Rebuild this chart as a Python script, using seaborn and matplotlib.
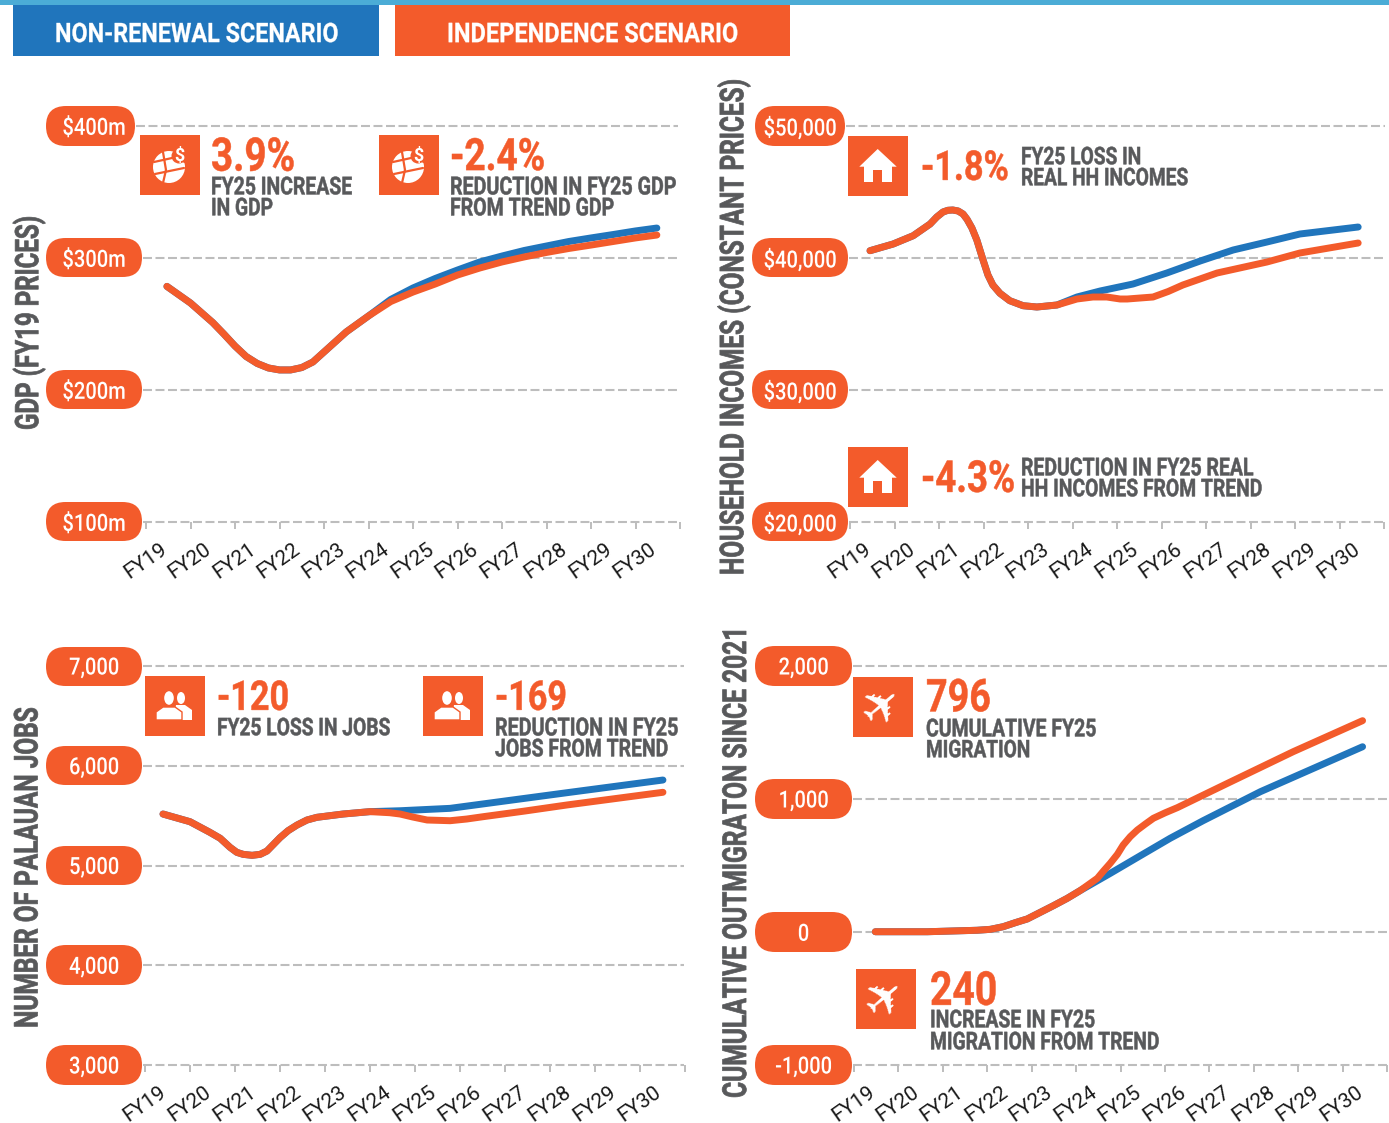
import matplotlib
matplotlib.use("Agg")
import matplotlib.pyplot as plt
from matplotlib.patches import Rectangle, FancyBboxPatch, Circle, Polygon, Ellipse
from matplotlib.patheffects import AbstractPathEffect
from matplotlib.transforms import Affine2D
import seaborn as sns

sns.set_theme(style="white")
FAMILY = ["Roboto", "DejaVu Sans"]
plt.rcParams["font.family"] = FAMILY

ORANGE, BLUE, TEXT, GRID = "#F35B2B", "#2075BC", "#58595B", "#BDBDBD"

FY_LABELS = ["FY19", "FY20", "FY21", "FY22", "FY23", "FY24", "FY25", "FY26", "FY27", "FY28", "FY29", "FY30"]

# GDP ($m)
gdp_x_head = [-0.03, .5, 1, 1.25, 1.5, 1.75, 2, 2.25, 2.5, 2.75, 3, 3.25, 3.5, 3.75, 4, 4.5]
gdp_head = [278.5, 265.9, 251.1, 242.4, 233.3, 225.4, 220.1, 216.7, 215.2, 215.2, 217, 221.2, 228.8, 236.4, 244, 256.1]
gdp_x_tail = [5, 5.5, 6, 6.5, 7, 7.5, 8, 8.5, 9, 9.5, 10, 10.5, 10.98]
gdp_ind_tail = [267, 274.2, 280.3, 287.1, 292.4, 297, 300.8, 304.2, 307.2, 309.8, 312.5, 315.2, 317.4]
gdp_non_tail = [268.6, 277.3, 284.5, 290.9, 297, 301.5, 305.7, 309.1, 312.5, 315.2, 317.8, 320.5, 322.7]

# Household incomes
hh_x_head = [-.05, .47, .92, 1.30, 1.45, 1.59, 1.70, 1.81, 1.93, 2.04, 2.13, 2.24, 2.35, 2.49, 2.60, 2.71, 2.87,
             3.09, 3.39, 3.70, 4.15]
hh_head = [40553, 41061, 41689, 42576, 43106, 43485, 43614, 43636, 43561, 43333, 42932, 42273, 41364, 39848, 38712,
           37955, 37326, 36765, 36386, 36288, 36439]
hh_x_ind_tail = [4.60, 4.96, 5.27, 5.57, 5.73, 6.31, 6.65, 6.98, 7.75, 8.87, 9.61, 10.92]
hh_ind_tail = [36894, 37045, 37045, 36894, 36894, 37045, 37462, 37955, 38864, 39697, 40379, 41136]
hh_x_non_tail = [4.60, 5.12, 5.86, 6.62, 7.37, 8.11, 8.87, 9.61, 10.92]
hh_non_tail = [37045, 37500, 38030, 38864, 39773, 40606, 41212, 41818, 42348]

# Jobs
jobs_x_head = [-.10, .50, .94, 1.17, 1.39, 1.54, 1.68, 1.88, 2.06, 2.21, 2.34, 2.50, 2.68, 2.88, 3.10, 3.32, 3.90, 4.50]
jobs_head = [5516, 5439, 5333, 5273, 5182, 5132, 5112, 5102, 5112, 5145, 5205, 5279, 5349, 5406, 5456, 5483, 5516, 5540]
jobs_x_ind_tail = [4.94, 5.17, 5.45, 5.77, 6.28, 6.65, 7.01, 7.94, 8.88, 11.01]
jobs_ind_tail = [5529, 5516, 5486, 5456, 5449, 5466, 5489, 5546, 5607, 5734]
jobs_x_non_tail = [5.17, 6.28, 7.39, 8.88, 11.01]
jobs_non_tail = [5549, 5573, 5640, 5730, 5857]

# Migration
mig_x_head = [-.02, 1.15, 2.27, 2.57, 2.86, 3.13, 3.40, 3.99, 4.30, 4.59]
mig_head = [2, 2, 13, 20, 40, 70, 98, 198, 253, 311]
mig_x_ind_tail = [4.98, 5.11, 5.27, 5.43, 5.56, 5.72, 5.88, 6.06, 6.24, 6.51, 6.78, 7.91, 9.39, 10.95]
mig_ind_tail = [404, 456, 517, 584, 654, 717, 767, 812, 855, 897, 935, 1118, 1356, 1589]
mig_x_non_tail = [5.27, 6.01, 6.62, 7.36, 8.65, 10.95]
mig_non_tail = [441, 586, 705, 837, 1055, 1393]

W, H = 1389, 1123
fig = plt.figure(figsize=(W / 100, H / 100), dpi=100, facecolor="white")
under = fig.add_axes([0, 0, 1, 1], zorder=0)
under.set_xlim(0, W)
under.set_ylim(H, 0)
under.axis("off")
renderer = fig.canvas.get_renderer()


class Tall(AbstractPathEffect):
    """Makes the glyphs of a text taller about their own middle, and optionally a little heavier."""

    def __init__(self, sy, stroke=0.0):
        super().__init__()
        self.sy = sy
        self.stroke = stroke

    def draw_path(self, renderer, gc, tpath, affine, rgbFace=None):
        e = tpath.get_extents()
        mid = (e.y0 + e.y1) / 2
        a = Affine2D().translate(0, -mid).scale(1, self.sy).translate(0, mid)
        gc0 = renderer.new_gc()
        gc0.copy_properties(gc)
        if self.stroke > 0 and rgbFace is not None:
            gc0.set_foreground(rgbFace)
            gc0.set_linewidth(self.stroke)
            gc0.set_joinstyle("round")
        renderer.draw_path(gc0, tpath, a + affine, rgbFace)
        gc0.restore()


def fitted(text, x0, x1, yc, color=TEXT, sy=1.27, stroke=0.35):
    t = under.text(x0, yc, text, color=color, fontweight="bold", fontsize=20, ha="left", va="baseline")
    w = t.get_window_extent(renderer).width
    fs = 20 * (x1 - x0) / w
    t.set_fontsize(fs)
    t.set_y(yc + 0.335 * fs * 100 / 72)
    t.set_path_effects([Tall(sy, stroke)])
    return t


def icon_box(x, y, size=60):
    under.add_patch(Rectangle((x, y), size, size, fc=ORANGE, ec="none"))


def house(x, y):
    icon_box(x, y)
    under.add_patch(Polygon([(x + 29.7, y + 13), (x + 48.7, y + 30.7), (x + 11.3, y + 30.7)], fc="white", ec="none"))
    under.add_patch(Rectangle((x + 16, y + 27), 27.7, 19.3, fc="white", ec="none"))
    under.add_patch(Rectangle((x + 25.3, y + 34), 8.4, 12.3, fc=ORANGE, ec="none"))


def globe(x, y):
    icon_box(x, y)
    cx, cy = x + 29, y + 32
    under.add_patch(Circle((cx, cy), 16, fc="white", ec="none"))
    for (a, b) in [((-15, -5), (3, -9)), ((-6, -15), (-3, 3)), ((-14, 7), (15, 1)), ((-3, 3), (-6, 16)), ((5, -10), (16, -5))]:
        under.plot([cx + a[0], cx + b[0]], [cy + a[1], cy + b[1]], color=ORANGE, lw=1.6)
    under.add_patch(Circle((cx + 10, cy - 11), 7.5, fc=ORANGE, ec="none"))
    under.text(cx + 10, cy - 11, "$", color="white", fontsize=13, fontweight="bold", ha="center", va="center")


def people(x, y):
    icon_box(x, y)
    under.add_patch(Ellipse((x + 36, y + 22), 8, 12, fc="white", ec="none"))
    under.add_patch(Polygon([(x + 31, y + 29), (x + 40, y + 29), (x + 47, y + 34), (x + 47, y + 44), (x + 28, y + 44)],
                            fc="white", ec="none"))
    under.add_patch(Ellipse((x + 24, y + 22), 11, 15, fc="white", ec=ORANGE, lw=1))
    under.add_patch(Polygon([(x + 18, y + 31), (x + 30, y + 31), (x + 37, y + 36), (x + 37, y + 44), (x + 11, y + 44),
                             (x + 11, y + 36)], fc="white", ec=ORANGE, lw=1))


def plane(x, y):
    icon_box(x, y)
    under.text(x + 30, y + 30, "\u2708", color="white", family="DejaVu Sans", fontsize=35, rotation=40,
               ha="center", va="center", rotation_mode="anchor")


def pill(x0, x1, y0, y1):
    r = (y1 - y0) / 2
    under.add_patch(FancyBboxPatch((x0, y0), x1 - x0, y1 - y0, boxstyle=f"round,pad=0,rounding_size={r}",
                                   fc=ORANGE, ec="none"))


def panel(tick0, tick12, top, bottom, ymin, ymax, ticks, labels, pills, grid_right, ylabel, yl_x, yl_mid, yl_len, series):
    ax = fig.add_axes([tick0 / W, 1 - bottom / H, (tick12 - tick0) / W, (bottom - top) / H], zorder=2)
    ax.patch.set_alpha(0)
    for s in ax.spines.values():
        s.set_visible(False)
    step = (tick12 - tick0) / 12
    for (xs, ys, c) in series:
        sns.lineplot(x=xs, y=ys, color=c, lw=5.0, sort=False, errorbar=None, ax=ax,
                     solid_capstyle="round", solid_joinstyle="round", zorder=3)
    ax.set_xlim(-0.5, 11.5)
    ax.set_ylim(ymin, ymax)
    for v, (p0, p1, q0, q1) in zip(ticks, pills):
        pill(p0, p1, q0, q1)
        ax.hlines(v, (p1 + 1 - tick0) / step - 0.5, (grid_right - tick0) / step - 0.5, colors=GRID, lw=1.5,
                  linestyles=[(0, (4.3, 1.7))], clip_on=False, zorder=1)
    ax.set_yticks(ticks, labels)
    centre = (pills[-1][0] + pills[-1][1]) / 2
    ax.tick_params(axis="y", length=0, pad=(tick0 - centre) / 1.389, labelcolor="white", labelsize=14.5)
    for lab in ax.get_yticklabels():
        lab.set_ha("center")
        lab.set_fontweight("medium")
        lab.set_path_effects([Tall(1.18)])
    ax.set_xticks(range(12), FY_LABELS)
    ax.set_xticks([i - 0.5 for i in range(13)], minor=True)
    ax.tick_params(axis="x", which="minor", length=5, width=1.4, color=GRID, bottom=True)
    ax.tick_params(axis="x", which="major", length=0, pad=12.5, labelsize=15, labelcolor="#1A1A1A")
    shift = Affine2D().translate(-9, 0)
    for lab in ax.get_xticklabels():
        lab.set_rotation(35)
        lab.set_ha("right")
        lab.set_va("top")
        lab.set_rotation_mode("anchor")
        lab.set_fontweight("normal")
        lab.set_transform(lab.get_transform() + shift)
    yl = ax.set_ylabel(ylabel, color=TEXT, fontweight="bold", fontsize=20, va="center")
    ax.yaxis.set_label_coords(yl_x / W, 1 - yl_mid / H, transform=fig.transFigure)
    length = yl.get_window_extent(renderer).height
    yl.set_fontsize(20 * yl_len / length)
    yl.set_path_effects([Tall(1.35, 0.5)])
    return ax


# banner
under.add_patch(Rectangle((0, 0), W, 5, fc="#4BACD6", ec="none"))
under.add_patch(Rectangle((13, 5), 366, 51, fc=BLUE, ec="none"))
under.add_patch(Rectangle((395, 5), 395, 51, fc=ORANGE, ec="none"))
fitted("NON-RENEWAL SCENARIO", 55, 338, 33, color="white", sy=1.15, stroke=0.2)
fitted("INDEPENDENCE SCENARIO", 447, 738, 33, color="white", sy=1.15, stroke=0.2)

panel(146, 680, 126, 522, 100, 400, [400, 300, 200, 100], ["$400m", "$300m", "$200m", "$100m"],
      [(46, 135, 106, 146), (46, 142, 238, 277), (46, 142, 370, 409), (46, 142, 502, 541)], 678,
      "GDP (FY19 PRICES)", 29, 323, 214,
      [(gdp_x_head + gdp_x_tail, gdp_head + gdp_non_tail, BLUE), (gdp_x_head + gdp_x_tail, gdp_head + gdp_ind_tail, ORANGE)])

panel(850, 1384, 126, 522, 20000, 50000, [50000, 40000, 30000, 20000], ["$50,000", "$40,000", "$30,000", "$20,000"],
      [(755, 845, 106, 146), (752, 848, 238, 277), (752, 848, 370, 409), (752, 848, 502, 541)], 1385,
      "HOUSEHOLD INCOMES (CONSTANT PRICES)", 734, 327, 495,
      [(hh_x_head + hh_x_non_tail, hh_head + hh_non_tail, BLUE), (hh_x_head + hh_x_ind_tail, hh_head + hh_ind_tail, ORANGE)])

panel(145, 685, 666, 1065, 3000, 7000, [7000, 6000, 5000, 4000, 3000], ["7,000", "6,000", "5,000", "4,000", "3,000"],
      [(46, 142, 647, 686), (46, 142, 746, 785), (46, 142, 846, 885), (46, 142, 945, 985), (46, 142, 1045, 1085)], 684,
      "NUMBER OF PALAUAN JOBS", 28, 868, 320,
      [(jobs_x_head + jobs_x_non_tail, jobs_head + jobs_non_tail, BLUE), (jobs_x_head + jobs_x_ind_tail, jobs_head + jobs_ind_tail, ORANGE)])

panel(854, 1387, 666, 1065, -1000, 2000, [2000, 1000, 0, -1000], ["2,000", "1,000", "0", "-1,000"],
      [(755, 852, 646, 686), (755, 852, 779, 819), (755, 852, 912, 952), (755, 852, 1045, 1085)], 1387,
      "CUMULATIVE OUTMIGRATON SINCE 2021", 736, 863, 470,
      [(mig_x_head + mig_x_non_tail, mig_head + mig_non_tail, BLUE), (mig_x_head + mig_x_ind_tail, mig_head + mig_ind_tail, ORANGE)])

BIG = 1.2
# callouts: panel 1
globe(140, 135)
fitted("3.9%", 211, 295, 155, color=ORANGE, sy=BIG)
fitted("FY25 INCREASE", 211, 352, 186)
fitted("IN GDP", 211, 273, 207)
globe(379, 135)
fitted("-2.4%", 450, 545, 155, color=ORANGE, sy=BIG)
fitted("REDUCTION IN FY25 GDP", 450, 676, 186)
fitted("FROM TREND GDP", 450, 614, 207)
# panel 2
house(848, 136)
fitted("-1.8%", 921, 1009, 166, color=ORANGE, sy=BIG)
fitted("FY25 LOSS IN", 1021, 1141, 156)
fitted("REAL HH INCOMES", 1021, 1188, 177)
house(848, 447)
fitted("-4.3%", 921, 1015, 477, color=ORANGE, sy=BIG)
fitted("REDUCTION IN FY25 REAL", 1021, 1253, 467)
fitted("HH INCOMES FROM TREND", 1021, 1262, 488)
# panel 3
people(145, 676)
fitted("-120", 217, 289, 696, color=ORANGE, sy=BIG)
fitted("FY25 LOSS IN JOBS", 217, 390, 727)
people(423, 676)
fitted("-169", 495, 567, 696, color=ORANGE, sy=BIG)
fitted("REDUCTION IN FY25", 495, 678, 727)
fitted("JOBS FROM TREND", 495, 668, 748)
# panel 4
plane(853, 677)
fitted("796", 926, 991, 696, color=ORANGE, sy=BIG)
fitted("CUMULATIVE FY25", 926, 1096, 728)
fitted("MIGRATION", 926, 1030, 749)
plane(856, 969)
fitted("240", 930, 997, 989, color=ORANGE, sy=BIG)
fitted("INCREASE IN FY25", 930, 1095, 1019)
fitted("MIGRATION FROM TREND", 930, 1159, 1041)

fig.savefig("out.png", dpi=100, facecolor="white")
